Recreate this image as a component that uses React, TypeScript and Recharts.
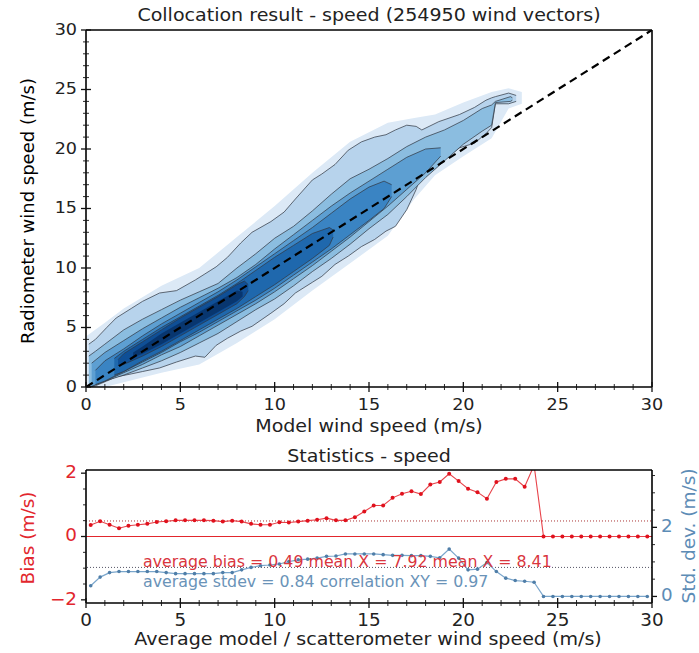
import React from 'react';
import {
  ComposedChart,
  Area,
  Line,
  XAxis,
  YAxis,
  ReferenceLine,
} from 'recharts';

// contour bands of the collocation density, [model speed, lower, upper] in m/s
const HAZE = [
  [0.05, 0, 4.3], [1, 0, 5.4], [2, 0.4, 6.6], [4, 1.2, 8.5], [6, 1.9, 10.0],
  [8, 3.7, 12.6], [10, 5.7, 15.2], [12, 8.1, 18.0], [14, 10.4, 20.6],
  [16, 12.7, 22.2], [17.4, 15.8, 22.6], [18.5, 17.8, 22.9], [20, 19.4, 23.9],
  [21.5, 20.9, 24.8], [22.4, 23.4, 25.1], [23.1, 23.8, 24.8],
];
const LEVEL_1 = [
  [0.15, 0, 3.6], [0.5, 0.1, 4.0], [1.1, 0.5, 5.0], [1.6, 0.85, 5.8],
  [2.4, 1.1, 6.6], [3.0, 1.3, 7.2], [3.9, 1.6, 7.9], [4.8, 2.1, 8.1],
  [5.8, 2.6, 9.0], [6.3, 2.5, 9.5], [6.9, 3.5, 10.1], [7.5, 4.1, 10.9],
  [8.2, 4.7, 12.1], [8.8, 5.1, 13.0], [9.8, 6.2, 13.9], [10.5, 7.0, 14.7],
  [11.1, 7.9, 15.8], [12.0, 8.8, 17.4], [12.5, 9.3, 17.9], [13.2, 10.3, 18.7],
  [13.9, 11.0, 19.9], [14.6, 11.8, 20.6], [15.3, 12.4, 21.0], [15.9, 13.1, 21.2],
  [16.4, 13.5, 21.6], [17.0, 14.9, 22.0], [17.5, 16.6, 21.9], [17.8, 18.0, 21.6],
  [18.7, 18.8, 22.3], [19.8, 20.1, 22.9], [20.6, 20.5, 23.5], [21.2, 21.3, 24.1],
  [21.5, 21.8, 24.3], [21.7, 23.8, 24.4], [22.4, 23.8, 24.7], [22.8, 24.0, 24.5],
];
const LEVEL_2 = [
  [0.15, 0, 2.6], [0.5, 0.2, 3.0], [1, 0.5, 3.6], [2, 1.0, 4.8], [3, 1.6, 5.7],
  [4, 2.2, 6.5], [5, 2.9, 7.3], [6, 3.7, 8.0], [7, 4.5, 8.7], [8, 5.5, 10.0],
  [9, 6.5, 11.2], [10, 7.4, 12.5], [11, 8.5, 13.5], [12, 9.7, 14.8],
  [13, 10.8, 16.2], [14, 12.0, 17.5], [15, 13.3, 18.3], [16, 14.5, 19.2],
  [17, 16.0, 20.2], [18, 17.6, 21.0], [19, 19.0, 21.6], [20, 20.4, 22.4],
  [21, 21.5, 23.4], [21.5, 22.0, 23.7], [21.7, 23.9, 24.0], [22.5, 24.0, 24.4],
  [22.6, 24.1, 24.3],
];
const LEVEL_3 = [
  [0.3, 0.05, 2.0], [1, 0.5, 2.9], [2, 1.2, 3.9], [3, 1.9, 4.9], [4, 2.7, 5.8],
  [5, 3.4, 6.7], [6, 4.3, 7.5], [7, 5.2, 8.3], [8, 6.1, 9.2], [9, 7.0, 10.3],
  [10, 8.0, 11.6], [11, 9.1, 12.8], [12, 10.2, 14.0], [13, 11.4, 15.2],
  [14, 12.6, 16.3], [15, 13.9, 17.3], [16, 15.2, 18.3], [17, 16.6, 19.3],
  [18, 18.0, 20.0], [18.8, 19.4, 20.1],
];
const LEVEL_4 = [
  [0.5, 0.2, 1.4], [1, 0.5, 2.2], [2, 1.3, 3.2], [3, 2.1, 4.3], [4, 2.9, 5.3],
  [5, 3.8, 6.2], [6, 4.6, 7.1], [7, 5.5, 8.0], [8, 6.4, 9.0], [9, 7.3, 10.1],
  [10, 8.3, 11.2], [11, 9.4, 12.3], [12, 10.5, 13.4], [13, 11.6, 14.6],
  [14, 12.8, 15.8], [15, 14.0, 16.8], [15.8, 15.0, 17.3], [16.2, 16.0, 17.0],
];
const LEVEL_5 = [
  [1.5, 1.0, 2.4], [2, 1.3, 3.0], [3, 2.2, 4.0], [4, 3.0, 5.0], [5, 3.9, 5.9],
  [6, 4.8, 6.8], [7, 5.7, 7.7], [8, 6.6, 8.7], [9, 7.6, 9.8], [10, 8.6, 10.9],
  [11, 9.7, 11.9], [12, 10.8, 12.9], [12.9, 11.9, 13.4], [13.1, 12.6, 13.2],
];
const LEVEL_6 = [
  [1.7, 1.8, 2.3], [2, 1.9, 2.8], [3, 2.6, 3.8], [4, 3.4, 4.8], [5, 4.3, 5.8],
  [6, 5.2, 6.7], [7, 6.1, 7.6], [8, 7.0, 8.6], [8.4, 7.6, 8.9], [8.6, 8.1, 8.6],
];
const LEVEL_7 = [
  [2.5, 2.5, 2.9], [3, 2.8, 3.4], [4, 3.6, 4.5], [5, 4.5, 5.4], [6, 5.4, 6.3],
  [7, 6.3, 7.2], [8, 7.2, 8.1], [8.3, 7.6, 8.0],
];

const CONTOURS = [
  { id: 'haze', pts: HAZE, fill: '#dce9f6', line: false },
  { id: 'l1', pts: LEVEL_1, fill: '#b7d3ec', line: true },
  { id: 'l2', pts: LEVEL_2, fill: '#8bbde0', line: true },
  { id: 'l3', pts: LEVEL_3, fill: '#5d9fd2', line: true },
  { id: 'l4', pts: LEVEL_4, fill: '#3a84c3', line: true },
  { id: 'l5', pts: LEVEL_5, fill: '#1f68ad', line: true },
  { id: 'l6', pts: LEVEL_6, fill: '#0f4f96', line: true },
  { id: 'l7', pts: LEVEL_7, fill: '#08366f', line: false },
];

const DIAGONAL = [{ x: 0, y: 0 }, { x: 30, y: 30 }];

// statistics per 0.5 m/s bin
const SPEED_BINS = [
  0.25, 0.75, 1.25, 1.75, 2.25, 2.75, 3.25, 3.75, 4.25, 4.75,
  5.25, 5.75, 6.25, 6.75, 7.25, 7.75, 8.25, 8.75, 9.25, 9.75,
  10.25, 10.75, 11.25, 11.75, 12.25, 12.75, 13.25, 13.75, 14.25, 14.75,
  15.25, 15.75, 16.25, 16.75, 17.25, 17.75, 18.25, 18.75, 19.25, 19.75,
  20.25, 20.75, 21.25, 21.75, 22.25, 22.75, 23.25, 23.75, 24.25, 24.75,
  25.25, 25.75, 26.25, 26.75, 27.25, 27.75, 28.25, 28.75, 29.25, 29.75,
];
const BIAS = [
  0.36, 0.48, 0.37, 0.26, 0.34, 0.37, 0.40, 0.46, 0.48, 0.51,
  0.51, 0.51, 0.51, 0.50, 0.47, 0.50, 0.47, 0.40, 0.37, 0.37,
  0.45, 0.44, 0.47, 0.50, 0.53, 0.58, 0.51, 0.51, 0.61, 0.79,
  0.98, 0.98, 1.22, 1.35, 1.43, 1.34, 1.64, 1.72, 1.98, 1.75,
  1.51, 1.40, 1.19, 1.72, 1.82, 1.82, 1.57, 2.25, 0, 0,
  0, 0, 0, 0, 0, 0, 0, 0, 0, 0,
];
const STDEV = [
  0.31, 0.56, 0.69, 0.72, 0.72, 0.72, 0.72, 0.72, 0.69, 0.66,
  0.66, 0.66, 0.66, 0.66, 0.69, 0.69, 0.77, 0.84, 0.89, 0.91,
  0.94, 1.01, 1.06, 1.08, 1.11, 1.16, 1.17, 1.23, 1.23, 1.23,
  1.23, 1.21, 1.19, 1.19, 1.18, 1.18, 1.16, 1.12, 1.37, 1.11,
  0.77, 0.79, 0.98, 0.72, 0.53, 0.46, 0.44, 0.41, 0, 0,
  0, 0, 0, 0, 0, 0, 0, 0, 0, 0,
];
const AVG_BIAS = 0.49;
const AVG_STDEV = 0.84;

const SPEED_TICKS = Array.from({ length: 31 }, (_, i) => i);
const BIAS_TICKS = [-2, -1.5, -1, -0.5, 0, 0.5, 1, 1.5, 2];
const STD_TICKS = [0, 0.5, 1, 1.5, 2, 2.5, 3, 3.5];

const RED = '#e2262d';
const STEEL = '#5d8cb6';
const FONT = '"DejaVu Sans", sans-serif';

const isMajor = (v: number, every: number) => Math.abs(v / every - Math.round(v / every)) < 1e-6;
const fmt = (v: number) => (v < 0 ? '\u2212' + Math.abs(v) : String(v));

function XTick({ x, y, payload, every, labels, fontSize = 16, sx = 1.1, color = '#222' }: any) {
  const v = payload.value;
  const major = isMajor(v, every);
  const len = major ? 5 : 3;
  return (
    <g>
      <line x1={x} x2={x} y1={y - len} y2={y + len} stroke="#111" strokeWidth={major ? 1.3 : 0.9} />
      {labels && major && (
        <text transform={`translate(${x} ${y + 18}) scale(${sx} 1)`} textAnchor="middle" dominantBaseline="middle"
          fontSize={fontSize} fill={color} fontFamily={FONT}>
          {fmt(v)}
        </text>
      )}
    </g>
  );
}

function YTick({ x, y, payload, every, labels, side = 'left', fontSize = 16, sx = 1.1, color = '#222', inout = true, shown }: any) {
  const v = payload.value;
  const major = isMajor(v, every);
  const len = major ? 5 : 3;
  const s = side === 'left' ? -1 : 1;
  const x1 = inout ? x - len : x;
  const x2 = inout ? x + len : x + s * len;
  const showLabel = labels && (shown ? shown.includes(v) : major);
  return (
    <g>
      <line x1={x1} x2={x2} y1={y} y2={y} stroke="#111" strokeWidth={major ? 1.3 : 0.9} />
      {showLabel && (
        <text transform={`translate(${x + s * 9} ${y}) scale(${sx} 1)`} textAnchor={side === 'left' ? 'end' : 'start'}
          dominantBaseline="middle" fontSize={fontSize} fill={color} fontFamily={FONT}>
          {fmt(v)}
        </text>
      )}
    </g>
  );
}

const abs = (left: number, top: number, extra: React.CSSProperties = {}, sx = 1.12): React.CSSProperties => ({
  position: 'absolute',
  left,
  top,
  transform: `translate(-50%, -50%) scaleX(${sx})`,
  whiteSpace: 'nowrap',
  fontFamily: FONT,
  ...extra,
});
const vertical = 'translate(-50%, -50%) rotate(-90deg)';
const note: React.CSSProperties = {
  position: 'absolute', left: 143, fontSize: 15.8, lineHeight: '18px', fontFamily: FONT, whiteSpace: 'nowrap',
};

export default function App() {
  const statsData = SPEED_BINS.map((x, i) => ({ x, bias: BIAS[i], std: STDEV[i] }));
  const axisLine = { stroke: '#000', strokeWidth: 1.6 };

  return (
    <div style={{ position: 'absolute', left: 0, top: 0, width: 699, height: 653, background: '#fff', overflow: 'hidden' }}>
      {/* scatter density */}
      <div style={{ position: 'absolute', left: 0, top: 0 }}>
        <ComposedChart width={699} height={440} margin={{ top: 29, right: 46, bottom: 52, left: 85 }}>
          <XAxis type="number" dataKey="x" domain={[0, 30]} ticks={SPEED_TICKS} interval={0} allowDataOverflow
            height={1} tickSize={0} tickMargin={0} tickLine={false} axisLine={axisLine}
            tick={(p: any) => <XTick {...p} every={5} labels />} />
          <XAxis xAxisId="top" orientation="top" type="number" domain={[0, 30]} ticks={SPEED_TICKS} interval={0}
            height={1} tickSize={0} tickMargin={0} tickLine={false} axisLine={axisLine}
            tick={(p: any) => <XTick {...p} every={5} />} />
          <YAxis type="number" domain={[0, 30]} ticks={SPEED_TICKS} interval={0} allowDataOverflow
            width={1} tickSize={0} tickMargin={0} tickLine={false} axisLine={axisLine}
            tick={(p: any) => <YTick {...p} every={5} labels />} />
          <YAxis yAxisId="right" orientation="right" type="number" domain={[0, 30]} ticks={SPEED_TICKS} interval={0}
            width={1} tickSize={0} tickMargin={0} tickLine={false} axisLine={axisLine}
            tick={(p: any) => <YTick {...p} every={5} side="right" />} />
          {CONTOURS.map((c) => (
            <Area
              key={c.id}
              data={c.pts.map(([x, lo, hi]) => ({ x, band: [lo, hi] }))}
              dataKey="band"
              type="linear"
              fill={c.fill}
              fillOpacity={1}
              stroke={c.line ? '#2f3642' : 'none'}
              strokeOpacity={0.8}
              strokeWidth={0.9}
              dot={false}
              activeDot={false}
              isAnimationActive={false}
            />
          ))}
          <Line data={DIAGONAL} dataKey="y" type="linear" stroke="#000" strokeWidth={2.2}
            strokeDasharray="8 5" dot={false} activeDot={false} isAnimationActive={false} />
        </ComposedChart>
      </div>

      <div style={abs(369, 15, { fontSize: 17, color: '#222' })}>Collocation result - speed (254950 wind vectors)</div>
      <div style={abs(369, 426, { fontSize: 17, color: '#222' })}>Model wind speed (m/s)</div>
      <div style={{ ...abs(27, 211, { fontSize: 18, color: '#000' }), transform: vertical }}>
        Radiometer wind speed (m/s)
      </div>

      {/* statistics */}
      <div style={{ position: 'absolute', left: 0, top: 440 }}>
        <ComposedChart width={699} height={213} data={statsData} margin={{ top: 29, right: 46, bottom: 49, left: 85 }}>
          <XAxis type="number" dataKey="x" domain={[0, 30]} ticks={SPEED_TICKS} interval={0}
            height={1} tickSize={0} tickMargin={0} tickLine={false} axisLine={axisLine}
            tick={(p: any) => <XTick {...p} every={5} labels fontSize={17} sx={1.08} />} />
          <XAxis xAxisId="top" orientation="top" type="number" domain={[0, 30]} height={1}
            tick={false} tickLine={false} axisLine={axisLine} />
          <YAxis yAxisId="bias" type="number" domain={[-2.1, 2.1]} ticks={BIAS_TICKS} interval={0} allowDataOverflow
            width={1} tickSize={0} tickMargin={0} tickLine={false} axisLine={axisLine}
            tick={(p: any) => <YTick {...p} every={2} labels fontSize={17} sx={1.08} color={RED} inout={false} />} />
          <YAxis yAxisId="std" orientation="right" type="number" domain={[-0.19, 3.66]} ticks={STD_TICKS} interval={0} allowDataOverflow
            width={1} tickSize={0} tickMargin={0} tickLine={false} axisLine={axisLine}
            tick={(p: any) => <YTick {...p} every={2} labels shown={[0, 2]} side="right" fontSize={17} sx={1.08} color={STEEL} inout={false} />} />
          <ReferenceLine yAxisId="bias" y={0} stroke={RED} strokeWidth={1} />
          <ReferenceLine yAxisId="bias" y={AVG_BIAS} stroke="#a33" strokeWidth={1} strokeDasharray="1 2" />
          <ReferenceLine yAxisId="std" y={AVG_STDEV} stroke="#556" strokeWidth={1} strokeDasharray="1 2" />
          <Line yAxisId="std" dataKey="std" type="linear" stroke="#7aa6cc" strokeWidth={1.2}
            dot={{ r: 1.8, fill: '#4f7ea8', stroke: 'none' }} activeDot={false} isAnimationActive={false} />
          <Line yAxisId="bias" dataKey="bias" type="linear" stroke="#e8434a" strokeWidth={1.1}
            dot={{ r: 2, fill: '#e0111d', stroke: 'none' }} activeDot={false} isAnimationActive={false} />
        </ComposedChart>
      </div>

      <div style={abs(369, 456, { fontSize: 17, color: '#222' })}>Statistics - speed</div>
      <div style={abs(368, 639, { fontSize: 17, color: '#222' })}>Average model / scatterometer wind speed (m/s)</div>
      <div style={{ ...abs(27, 538, { fontSize: 18.5, color: RED }), transform: vertical }}>Bias (m/s)</div>
      <div style={{ ...abs(688, 536, { fontSize: 18.5, color: STEEL }), transform: vertical }}>Std. dev. (m/s)</div>
      <div style={{ ...note, top: 553, color: '#d9363e' }}>average bias = 0.49 mean X = 7.92 mean X = 8.41</div>
      <div style={{ ...note, top: 573, color: '#6a93b8' }}>average stdev = 0.84 correlation XY = 0.97</div>
    </div>
  );
}
